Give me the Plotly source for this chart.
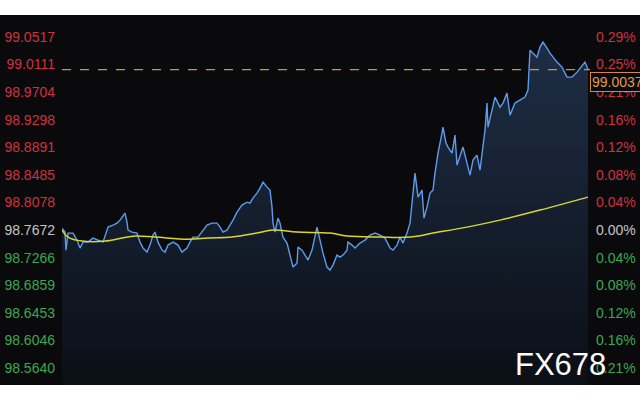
import plotly.graph_objects as go

# ---- data ----
minutes = [0,3,4,6,11,15,18,21,26,31,36,41,45,46,51,55,58,63,65,66,70,75,78,81,85,88,91,93,96,100,
           103,106,111,116,120,125,128,131,136,140,145,150,155,158,161,165,167,171,175,180,185,188,191,195,198,201,205,208,210,211,
           213,216,218,221,225,228,231,235,236,240,243,246,250,253,255,258,261,265,268,271,275,278,281,285,286,290,293,298,303,308,
           313,318,323,328,331,335,338,341,345,348,351,353,356,360,362,365,368,371,373,376,380,381,384,386,390,393,395,398,401,405,
           408,411,415,418,420,423,425,426,430,433,438,441,445,448,453,458,463,466,468,471,475,478,481,485,488,495,500,505,510,515,
           520,523,526]
price = [98.7701,98.7643,98.7377,98.7628,98.7628,98.7525,98.7407,98.7495,98.7495,98.7554,
         98.7525,98.7495,98.7672,98.7716,98.7746,98.7775,98.7819,98.7922,98.7790,98.7672,
         98.7643,98.7628,98.7495,98.7407,98.7348,98.7451,98.7598,98.7643,98.7495,98.7377,
         98.7348,98.7451,98.7495,98.7451,98.7348,98.7407,98.7495,98.7569,98.7569,98.7643,
         98.7746,98.7775,98.7775,98.7716,98.7643,98.7672,98.7716,98.7819,98.7937,98.8040,
         98.8084,98.8070,98.8143,98.8217,98.8291,98.8379,98.8305,98.8261,98.8011,98.7775,
         98.7643,98.7849,98.7775,98.7569,98.7481,98.7304,98.7127,98.7186,98.7422,98.7377,
         98.7304,98.7230,98.7377,98.7569,98.7716,98.7525,98.7333,98.7127,98.7083,98.7156,
         98.7304,98.7274,98.7304,98.7377,98.7495,98.7451,98.7407,98.7481,98.7525,98.7598,
         98.7628,98.7598,98.7554,98.7407,98.7377,98.7451,98.7569,98.7481,98.7628,98.7775,
         98.8217,98.8512,98.8158,98.8261,98.7849,98.8011,98.8217,98.8261,98.8512,98.8806,
         98.9101,98.9189,98.8954,98.8895,98.8806,98.9071,98.8629,98.8747,98.8895,98.8659,
         98.8482,98.8703,98.8777,98.8556,98.8821,98.9145,98.9543,98.9189,98.9440,98.9631,
         98.9484,98.9543,98.9690,98.9366,98.9543,98.9587,98.9631,98.9734,99.0323,99.0279,
         99.0220,99.0368,99.0441,99.0353,99.0279,99.0147,99.0073,98.9926,98.9926,98.9999,
         99.0102,99.0147,99.0037]

avg_minutes = [0,6,20,43,60,73,93,126,146,170,195,211,235,268,285,318,348,371,405,438,478,526]
avg_price = [98.7672,98.7569,98.7510,98.7510,98.7554,98.7584,98.7569,98.7539,98.7554,98.7569,98.7628,
             98.7672,98.7643,98.7628,98.7584,98.7569,98.7569,98.7628,98.7716,98.7819,98.7967,98.8158]

base_price = 98.7672
last_price = 99.0037
tick_prices = [99.0517,99.0111,98.9704,98.9298,98.8891,98.8485,98.8078,
               98.7672,98.7266,98.6859,98.6453,98.6046,98.5640]
pct_labels = ["0.29%","0.25%","0.21%","0.16%","0.12%","0.08%","0.04%",
              "0.00%","0.04%","0.08%","0.12%","0.16%","0.21%"]

n = min(len(minutes), len(price))
minutes, price = minutes[:n], price[:n]

RED, GREY, GREEN = "#d0313f", "#c4c4c4", "#3ba84f"
def col(v):
    if abs(v - base_price) < 1e-6:
        return GREY
    return RED if v > base_price else GREEN

left_text = [f'<span style="color:{col(v)}">{v:.4f}</span>' for v in tick_prices]
right_text = [f'<span style="color:{col(v)}">{t}</span>' for v, t in zip(tick_prices, pct_labels)]

YR = [98.539, 99.0841]
BG = "#0a0a0c"

fig = go.Figure()
fig.add_trace(go.Scatter(
    x=minutes, y=price, mode="lines",
    line=dict(color="#5c9ceb", width=1.4),
    fill="tozeroy",
    fillgradient=dict(type="vertical", start=98.54, stop=99.05,
                      colorscale=[[0, "rgb(11,15,22)"], [1, "rgb(30,46,70)"]]),
    hoverinfo="skip", showlegend=False))
fig.add_trace(go.Scatter(
    x=avg_minutes, y=avg_price, mode="lines", yaxis="y2",
    line=dict(color="#d9d62e", width=1.5, shape="spline"),
    hoverinfo="skip", showlegend=False))

L, R = 62, 50
PW = 640 - L - R
fig.update_layout(
    template="none",
    width=640, height=400,
    margin=dict(l=L, r=R, t=15, b=15, pad=0, autoexpand=False),
    paper_bgcolor="white", plot_bgcolor=BG,
    font=dict(family="Liberation Sans, Arial, sans-serif", size=14),
    xaxis=dict(range=[0, 528], visible=False, showgrid=False, zeroline=False, automargin=False),
    yaxis=dict(range=YR, tickvals=tick_prices, ticktext=left_text, showgrid=False,
               zeroline=False, showline=False, ticks="", tickfont=dict(size=14),
               automargin=False, ticklabelstandoff=6),
    yaxis2=dict(range=YR, overlaying="y", side="right", tickvals=tick_prices,
                ticktext=right_text, showgrid=False, zeroline=False, showline=False,
                ticks="", tickfont=dict(size=14), automargin=False, ticklabelstandoff=5),
    shapes=[
        dict(type="rect", xref="paper", yref="paper", x0=-L / PW, x1=1 + R / PW,
             y0=0, y1=1, fillcolor=BG, line=dict(width=0), layer="below"),
        dict(type="line", xref="paper", yref="y", x0=0, x1=1, y0=last_price, y1=last_price,
             line=dict(color="#c8925a", width=1.2, dash="dash")),
    ],
    annotations=[
        dict(x=1, xref="paper", y=last_price, yref="y", xanchor="left", yanchor="top",
             text=f"{last_price:.4f}", showarrow=False, font=dict(color="#e39a4a", size=14),
             bgcolor=BG, bordercolor="#d68a3c", borderwidth=1, borderpad=1, yshift=-2),
        dict(x=(560 - L) / PW, xref="paper", y=(385 - 364) / 370, yref="paper",
             text="FX678", showarrow=False, font=dict(color="white", size=31,
             family="Liberation Sans, Arial, sans-serif"), xanchor="center", yanchor="middle"),
    ],
)

fig.write_html("out.html", config={"displayModeBar": False},
               post_script="document.body.style.margin='0';")
